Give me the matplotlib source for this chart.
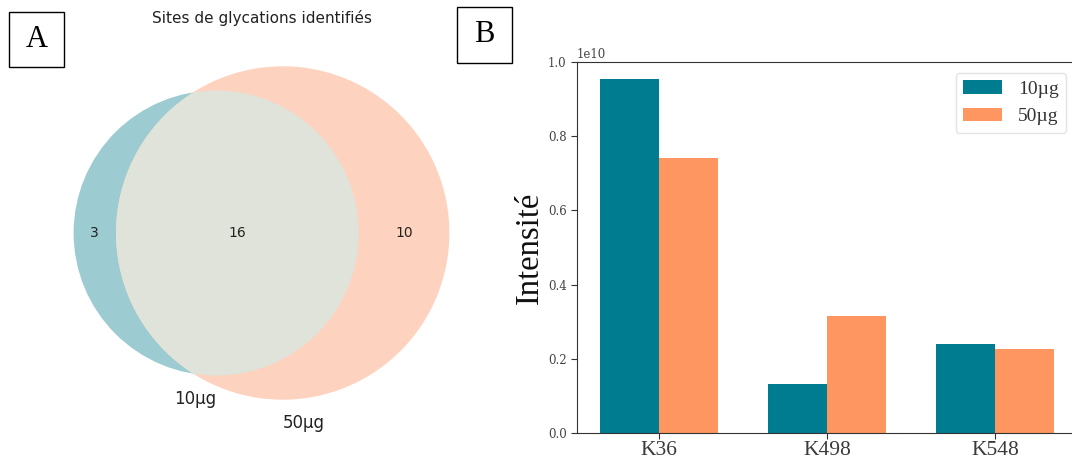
import numpy as np
import matplotlib
matplotlib.use("Agg")
import matplotlib.pyplot as plt
from matplotlib.patches import Circle, Rectangle

# --- data ---
venn_only_10 = 3
venn_both = 16
venn_only_50 = 10
venn_labels = ["10µg", "50µg"]

sites = ["K36", "K498", "K548"]
int_10 = [0.954e10, 0.132e10, 0.240e10]
int_50 = [0.741e10, 0.315e10, 0.226e10]
series = ["10µg", "50µg"]

teal = "#007c91"
orange = "#fd9660"

W, H = 1072, 462
fig = plt.figure(figsize=(W / 100, H / 100), dpi=100)


def fx(px):
    return px / W


def fy(py):
    return 1 - py / H


# --- panel A: venn ---
def lens_area(d, r1, r2):
    a1 = r1**2 * np.arccos((d**2 + r1**2 - r2**2) / (2 * d * r1))
    a2 = r2**2 * np.arccos((d**2 + r2**2 - r1**2) / (2 * d * r2))
    a3 = 0.5 * np.sqrt((-d + r1 + r2) * (d + r1 - r2) * (d - r1 + r2) * (d + r1 + r2))
    return a1 + a2 - a3


r_a = np.sqrt((venn_only_10 + venn_both) / np.pi)
r_b = np.sqrt((venn_only_50 + venn_both) / np.pi)
lo, hi = abs(r_b - r_a) + 1e-9, r_a + r_b - 1e-9
for _ in range(100):
    mid = 0.5 * (lo + hi)
    if lens_area(mid, r_a, r_b) > venn_both:
        lo = mid
    else:
        hi = mid
d = 0.5 * (lo + hi)

# center the bounding box on zero
left_edge = -r_a
right_edge = d + r_b
shift = -(left_edge + right_edge) / 2
c_a = shift
c_b = d + shift

scale = 57.95  # px per unit
axA = fig.add_axes([fx(61), fy(436), fx(401), (406) / H])
axA.set_xlim(-200.5 / scale, 200.5 / scale)
axA.set_ylim(-203 / scale, 203 / scale)
axA.axis("off")

circ_a = Circle((c_a, 0), r_a, facecolor="#9ccbd1", edgecolor="none")
circ_b = Circle((c_b, 0), r_b, facecolor="#fdd3bf", edgecolor="none")
axA.add_patch(circ_a)
axA.add_patch(circ_b)
lens = Circle((c_a, 0), r_a, facecolor="#dfe3da", edgecolor="none")
axA.add_patch(lens)
lens.set_clip_path(Circle((c_b, 0), r_b, transform=axA.transData))

fs_num = 10
txt_col = "#222222"
axA.text((c_a - r_a + c_b - r_b) / 2, 0, str(venn_only_10), ha="center", va="center", fontsize=fs_num, color=txt_col)
axA.text((c_b - r_b + c_a + r_a) / 2, 0, str(venn_both), ha="center", va="center", fontsize=fs_num, color=txt_col)
axA.text((c_a + r_a + c_b + r_b) / 2, 0, str(venn_only_50), ha="center", va="center", fontsize=fs_num, color=txt_col)
axA.text(c_a, -r_a - 0.25, venn_labels[0], ha="right", va="top", fontsize=12, color=txt_col, clip_on=False)
axA.text(c_b, -r_b - 0.25, venn_labels[1], ha="left", va="top", fontsize=12, color=txt_col, clip_on=False)

fig.text(fx(261.5), fy(18), "Sites de glycations identifiés", ha="center", va="center",
         fontsize=11, color=txt_col)

# --- panel B: bars ---
serif = ["Liberation Serif", "DejaVu Serif"]
axB = fig.add_axes([fx(577), fy(433), fx(500), 371 / H])
x = np.arange(len(sites))
w = 0.35
axB.bar(x - w / 2, int_10, w, color=teal, label=series[0])
axB.bar(x + w / 2, int_50, w, color=orange, label=series[1])
axB.set_ylim(0, 1.0e10)
axB.set_yticks(np.arange(0, 1.01e10, 0.2e10))
axB.set_xticks(x)
axB.set_xticklabels(sites, family=serif, fontsize=15.5, color="#3a3a3a")
for lab in axB.get_yticklabels():
    lab.set_family("DejaVu Serif")
axB.tick_params(axis="y", labelsize=8.5, labelcolor="#444444", color="#333333", length=4)
axB.tick_params(axis="x", color="#333333", length=4, pad=2)
axB.yaxis.get_offset_text().set_family("DejaVu Serif")
axB.yaxis.get_offset_text().set_fontsize(8.5)
axB.yaxis.get_offset_text().set_color("#444444")
for s in axB.spines.values():
    s.set_color("#333333")
axB.set_ylabel("Intensité", family=serif, fontsize=23.5, color="#111111", labelpad=2)
leg = axB.legend(prop={"family": serif, "size": 14}, loc="upper right",
                 handlelength=2.0, borderaxespad=0.55, fancybox=True)
leg.get_frame().set_edgecolor("#dddddd")
for t in leg.get_texts():
    t.set_color("#333333")

# --- panel letters ---
for (x0, y0, x1, y1, letter) in [(9, 12, 64, 67, "A"), (457, 7, 512, 63, "B")]:
    fig.add_artist(Rectangle((fx(x0), fy(y1)), fx(x1 - x0), (y1 - y0) / H,
                             transform=fig.transFigure, fill=False, edgecolor="black", lw=1))
    fig.text(fx((x0 + x1) / 2), fy((y0 + y1) / 2), letter, ha="center", va="center",
             family=serif, fontsize=22)

fig.savefig("out.png", dpi=100)
